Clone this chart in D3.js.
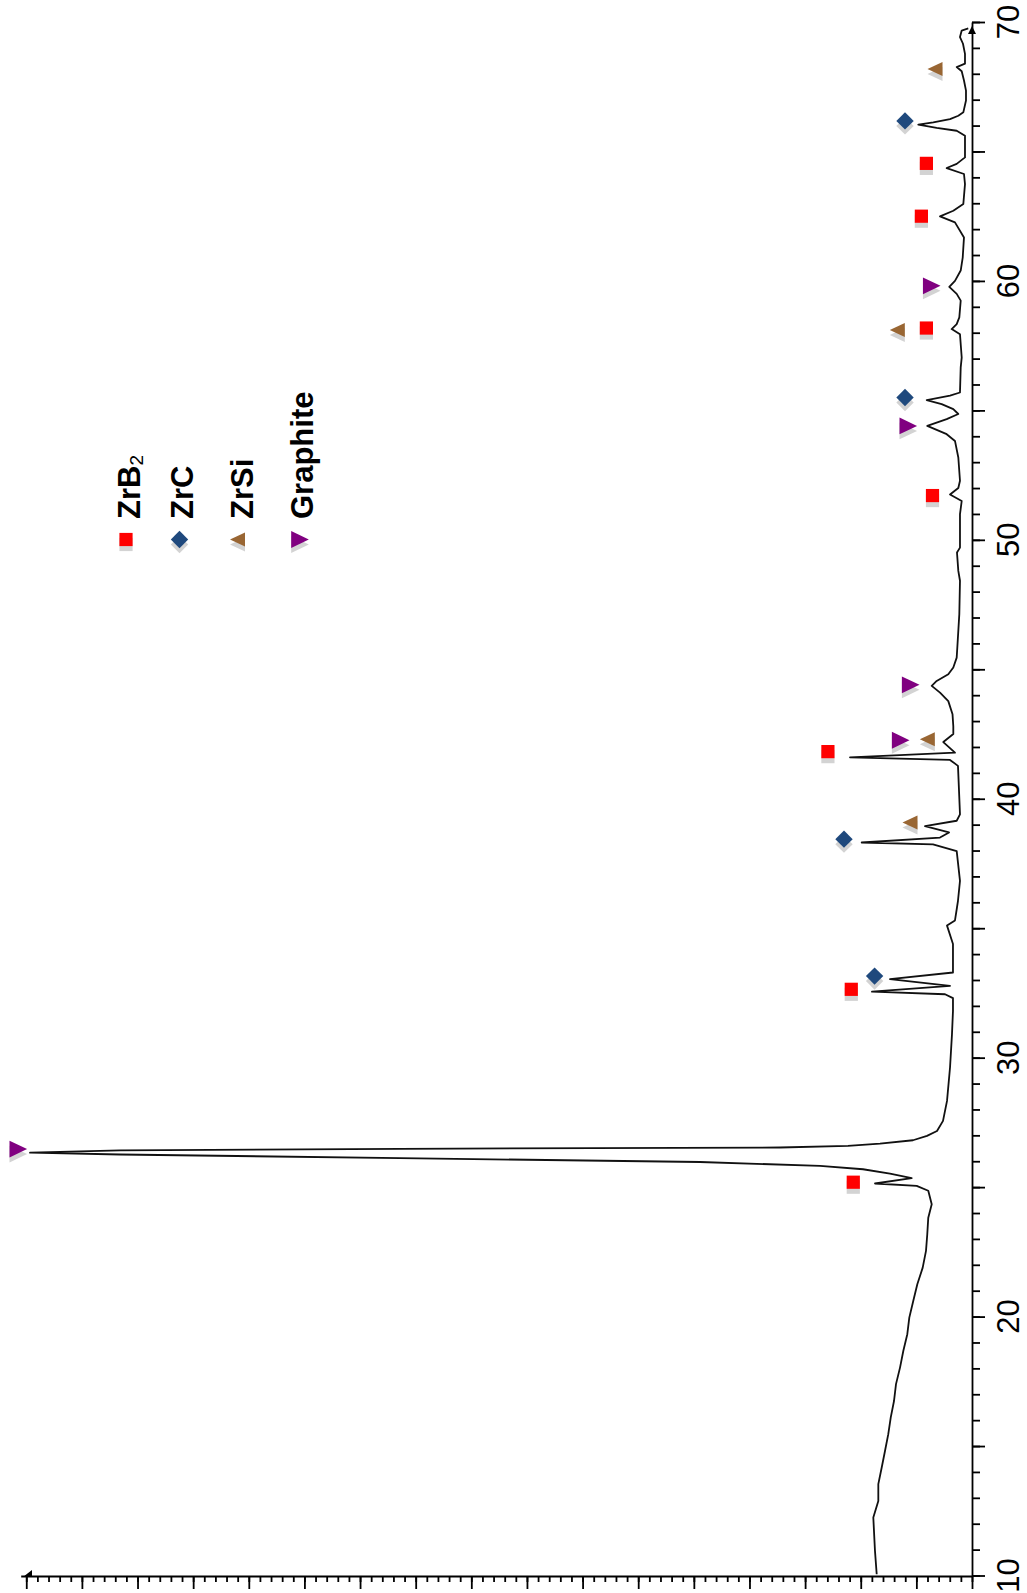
<!DOCTYPE html>
<html>
<head>
<meta charset="utf-8">
<script src="https://cdnjs.cloudflare.com/ajax/libs/d3/7.8.5/d3.min.js"></script>
<style>
body { margin: 0; background: #fff; }
svg { display: block; }
text { font-family: Arial, "Liberation Sans", sans-serif; }
.axis path, .axis line { stroke: #000; stroke-width: 1.8; fill: none; }
.trace { fill: none; stroke: #111; stroke-width: 1.8; stroke-linejoin: round; }
</style>
</head>
<body>
<div class="chart"></div>
<script>
// diffraction pattern (2-theta in degrees, intensity in counts)
var twoTheta = [10.05, 10.95, 12.24, 12.88, 13.53, 14.17, 14.81, 15.46, 16.10, 16.74,
	17.39, 18.03, 18.67, 19.32, 19.96, 20.61, 21.25, 21.89, 22.54, 23.18,
	23.82, 24.34, 24.86, 25.05, 25.14, 25.35, 25.52, 25.69, 25.82, 25.97,
	26.12, 26.26, 26.33, 26.42, 26.48, 26.53, 26.59, 26.68, 26.81, 26.98,
	27.17, 27.56, 28.33, 29.62, 30.90, 31.80, 32.30, 32.45, 32.55, 32.77,
	33.03, 33.29, 34.39, 35.10, 35.30, 35.80, 36.06, 36.83, 37.98, 38.24,
	38.31, 38.50, 38.70, 38.94, 39.15, 39.40, 41.27, 41.50, 41.60, 41.78,
	42.19, 42.50, 42.80, 43.26, 43.77, 44.10, 44.36, 44.55, 44.81, 45.07,
	45.45, 45.84, 47.13, 48.42, 48.80, 49.51, 49.70, 50.99, 51.50, 51.75,
	52.00, 52.28, 53.18, 53.82, 54.08, 54.40, 54.66, 54.86, 55.05, 55.24,
	55.40, 55.57, 55.69, 56.66, 57.04, 57.94, 58.14, 58.33, 58.59, 59.24,
	59.50, 59.77, 60.00, 60.40, 60.90, 61.68, 62.26, 62.49, 62.71, 62.97,
	63.74, 64.13, 64.36, 64.52, 64.77, 65.61, 65.80, 65.91, 66.04, 66.12,
	66.25, 66.38, 66.51, 66.97, 67.35, 67.74, 68.10, 68.26, 68.39, 68.77,
	69.16, 69.42, 69.67, 69.75];
var counts = [1713, 1744, 1774, 1684, 1684, 1623, 1564, 1505, 1461, 1402,
	1366, 1294, 1235, 1163, 1127, 1055, 983, 886, 827, 804,
	786, 724, 786, 994, 1744, 1084, 1474, 1959, 2732, 4890,
	10282, 15315, 16933, 15315, 10282, 3451, 2229, 1654, 1061, 809,
	629, 521, 449, 395, 360, 342, 342, 485, 1798, 395,
	1474, 342, 342, 449, 306, 270, 252, 216, 275, 701,
	1983, 575, 413, 845, 275, 216, 252, 395, 2193, 306,
	516, 336, 336, 350, 426, 575, 724, 635, 426, 336,
	275, 264, 228, 216, 246, 270, 216, 216, 185, 395,
	246, 216, 246, 306, 455, 804, 455, 246, 336, 545,
	814, 395, 216, 203, 185, 216, 365, 275, 228, 203,
	275, 408, 306, 203, 167, 144, 306, 575, 336, 156,
	126, 144, 455, 275, 126, 126, 275, 635, 965, 696,
	395, 246, 156, 108, 108, 144, 185, 275, 126, 126,
	162, 216, 185, 67];

// phase markers
var zrb2Theta = [25.19, 32.64, 41.82, 51.71, 58.18, 62.50, 64.54];
var zrb2Counts = [2134, 2170, 2590, 710, 820, 910, 820];
var zrcTheta = [33.15, 38.44, 55.50, 66.18];
var zrcCounts = [1751, 2301, 1204, 1204];
var zrsiTheta = [39.08, 42.30, 58.10, 68.18];
var zrsiCounts = [1115, 803, 1343, 665];
var graphiteTheta = [26.47, 42.26, 44.40, 54.40, 59.81];
var graphiteCounts = [17143, 1282, 1102, 1145, 724];

var phaseNames = ["ZrB2", "ZrC", "ZrSi", "Graphite"];
var thetaTicks = [10, 20, 30, 40, 50, 60, 70];

var width = 1027;
var height = 1593;

var shapes = {
	square: "M-6.6,-6.6H6.6V6.6H-6.6Z",
	diamond: "M0,-8.7L8.7,0L0,8.7L-8.7,0Z",
	left: "M7.5,-7L-7.5,0L7.5,7Z",
	right: "M-8.8,-8.4L8.8,0L-8.8,8.4Z"
};
var phaseStyle = [
	{ shape: "square", color: "#ff0000" },
	{ shape: "diamond", color: "#1f497d" },
	{ shape: "left", color: "#996633" },
	{ shape: "right", color: "#800080" }
];

var svg = d3.select(".chart").append("svg").attr("width", width).attr("height", height);

// the chart is turned on its side: intensity grows to the left, 2-theta grows upward
var x = d3.scaleLinear().domain([0, 17100]).range([972, 20.7]);
var y = d3.scaleLinear().domain([10, 70]).range([1575.5, 22]);

// intensity axis
svg.append("g").attr("class", "axis").attr("transform", "translate(0,1576)")
	.call(d3.axisBottom(x).tickValues(d3.range(0, 17001, 200)).tickSize(6).tickSizeOuter(0).tickFormat(""));
svg.append("g").attr("class", "axis").attr("transform", "translate(0,1576)")
	.call(d3.axisBottom(x).tickValues(d3.range(0, 17001, 1000)).tickSize(13).tickFormat(""))
	.select(".domain").remove();

// 2-theta axis
svg.append("g").attr("class", "axis").attr("transform", "translate(972,0)")
	.call(d3.axisRight(y).tickValues(d3.range(10, 71, 1)).tickSize(8).tickSizeOuter(0).tickFormat(""));
svg.append("g").attr("class", "axis").attr("transform", "translate(972,0)")
	.call(d3.axisRight(y).tickValues(d3.range(10, 71, 5)).tickSize(13).tickFormat(""))
	.select(".domain").remove();

svg.selectAll(".tlabel").data(thetaTicks).enter().append("text")
	.attr("class", "tlabel")
	.attr("transform", function(d) { return "translate(1019," + y(d) + ") rotate(-90)"; })
	.attr("text-anchor", "middle")
	.style("font-size", "31px")
	.text(function(d) { return d; });

// small end marks on the axes
svg.append("path").attr("d", "M23,1577L32,1570L32,1577Z").attr("fill", "#000");
svg.append("path").attr("d", "M968,34L972,26L976,34Z").attr("fill", "#000");

// trace
var line = d3.line()
	.x(function(d) { return x(d[1]); })
	.y(function(d) { return y(d[0]); });
svg.append("path").datum(d3.zip(twoTheta, counts))
	.attr("class", "trace")
	.attr("d", line);

function drawMarker(g, cx, cy, style) {
	g.append("path").attr("d", shapes[style.shape])
		.attr("transform", "translate(" + cx + "," + (cy + 5) + ")")
		.attr("fill", "#d3d3d3");
	g.append("path").attr("d", shapes[style.shape])
		.attr("transform", "translate(" + cx + "," + cy + ")")
		.attr("fill", style.color);
}

var markerSets = [
	[zrb2Theta, zrb2Counts],
	[zrcTheta, zrcCounts],
	[zrsiTheta, zrsiCounts],
	[graphiteTheta, graphiteCounts]
];
var markers = svg.append("g").attr("class", "markers");
markerSets.forEach(function(set, k) {
	set[0].forEach(function(t, i) {
		drawMarker(markers, x(set[1][i]), y(t), phaseStyle[k]);
	});
});

// legend
var legendX = [126, 179.5, 237.5, 300];
var legendText = [140, 192.5, 252.5, 312.5];
var legend = svg.append("g").attr("class", "legend");
phaseNames.forEach(function(name, k) {
	drawMarker(legend, legendX[k], 539.5, phaseStyle[k]);
	var t = legend.append("text")
		.attr("transform", "translate(" + legendText[k] + ",519) rotate(-90)")
		.style("font-size", "31px")
		.style("font-weight", "bold");
	if (name == "ZrB2") {
		t.append("tspan").text("ZrB");
		t.append("tspan").attr("dy", 3).style("font-size", "19px").style("font-weight", "normal").text("2");
	} else {
		t.text(name);
	}
});
</script>
</body>
</html>
